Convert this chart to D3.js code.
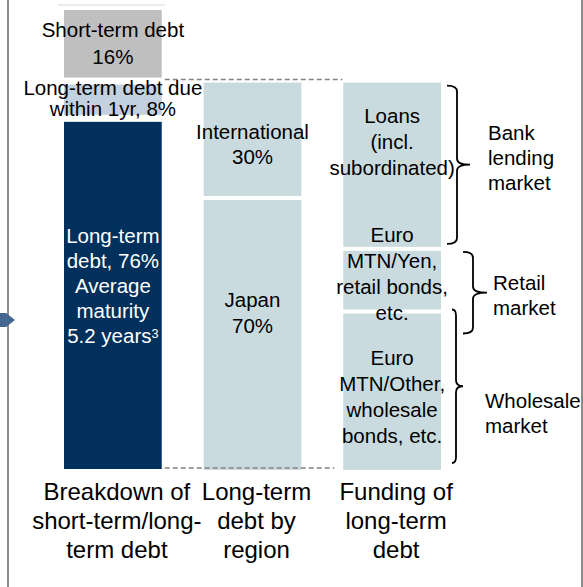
<!DOCTYPE html>
<html>
  <head>
    <script src="https://d3js.org/d3.v7.min.js"></script>
    <title>Debt breakdown</title>
    <style>
      body { margin: 0; background: #fff; }
      text { font-family: "Liberation Sans", Arial, sans-serif; }
    </style>
  </head>
  <body>
  <svg width="583" height="587"></svg>
  <script>

      // data
      var columns = ['term', 'region', 'funding'];
      var columnLabels = [
        ['Breakdown of', 'short-term/long-', 'term debt'],
        ['Long-term', 'debt by', 'region'],
        ['Funding of', 'long-term', 'debt']
      ];

      var termNames = ['Short-term debt', 'Long-term debt due within 1yr', 'Long-term debt'];
      var termShare = [16, 8, 76];
      var termLabels = [
        ['Short-term debt', '16%'],
        ['Long-term debt due', 'within 1yr, 8%'],
        ['Long-term', 'debt, 76%', 'Average', 'maturity', '5.2 years|3']
      ];

      var regionNames = ['International', 'Japan'];
      var regionShare = [30, 70];
      var regionLabels = [
        ['International', '30%'],
        ['Japan', '70%']
      ];

      var fundingNames = ['Loans', 'Euro MTN/Yen', 'Euro MTN/Other'];
      var fundingShare = [43, 16, 41];
      var fundingLabels = [
        ['Loans', '(incl.', 'subordinated)'],
        ['Euro', 'MTN/Yen,', 'retail bonds,', 'etc.'],
        ['Euro', 'MTN/Other,', 'wholesale', 'bonds, etc.']
      ];

      var marketNames = [['Bank', 'lending', 'market'], ['Retail', 'market'], ['Wholesale', 'market']];

      var svg = d3.select('svg');

      var x = d3.scaleBand()
        .domain(columns)
        .range([64, 441])
        .paddingInner(0.3);

      var y = d3.scaleLinear()
        .domain([0, 100])
        .range([7, 473]);

      // frame + little arrow on the left
      svg.append('line').attr('x1', 8).attr('x2', 8).attr('y1', 0).attr('y2', 587)
        .attr('stroke', '#8c8c8c').attr('stroke-width', 2);
      svg.append('line').attr('x1', 582).attr('x2', 582).attr('y1', 0).attr('y2', 587)
        .attr('stroke', '#8c8c8c').attr('stroke-width', 2);
      svg.append('line').attr('x1', 58).attr('x2', 165).attr('y1', 5).attr('y2', 5)
        .attr('stroke', '#e4e4e4').attr('stroke-width', 1.5);
      svg.append('polygon')
        .attr('points', '0,313 6,313 15,320 6,327 0,327')
        .attr('fill', '#44678f');

      // stacks: short/long term over full height, the others over long-term part
      function stack(shares, from, span) {
        var cum = 0;
        return shares.map(function(s, i) {
          var a = from + cum * span / 100;
          cum += s;
          return {i: i, start: a, end: from + cum * span / 100};
        });
      }

      var termSegs = stack(termShare, 0, 100);
      var longStart = termShare[0];
      var longSpan = 100 - termShare[0];
      var regionSegs = stack(regionShare, longStart, longSpan);
      var fundingSegs = stack(fundingShare, longStart, longSpan);

      var termColors = ['#bfbfbf', '#c3d0df', '#00305b'];
      var lightColor = '#cadbdf';

      function drawSegs(segs, col, colors, top, bot) {
        svg.append('g').selectAll('rect')
          .data(segs)
          .enter().append('rect')
          .attr('x', x(col))
          .attr('y', d => y(d.start) + top)
          .attr('width', x.bandwidth())
          .attr('height', d => y(d.end) - y(d.start) - top - bot)
          .attr('fill', (d, i) => colors[i]);
      }

      drawSegs(termSegs, 'term', termColors, 3, 4);
      drawSegs(regionSegs, 'region', [lightColor, lightColor], 1, 3);
      drawSegs(fundingSegs, 'funding', [lightColor, lightColor, lightColor], 1, 3);

      // dashed connectors
      svg.append('line')
        .attr('x1', x('term') + x.bandwidth() + 3).attr('x2', x('funding') - 1)
        .attr('y1', y(longStart) - 2).attr('y2', y(longStart) - 2)
        .attr('stroke', '#808080').attr('stroke-width', 1.5).attr('stroke-dasharray', '5,3');
      svg.append('line')
        .attr('x1', x('term') + x.bandwidth() + 3).attr('x2', x('funding') - 9)
        .attr('y1', y(100) - 5).attr('y2', y(100) - 5)
        .attr('stroke', '#808080').attr('stroke-width', 1.5).attr('stroke-dasharray', '5,3');

      // text blocks inside segments
      function block(lines, cx, cy, lh, size, color) {
        var t0 = cy - (lines.length - 1) * lh / 2;
        lines.forEach(function(l, i) {
          var t = svg.append('text')
            .attr('x', cx)
            .attr('y', t0 + i * lh)
            .attr('dy', '0.35em')
            .attr('text-anchor', 'middle')
            .style('font-size', size + 'px')
            .attr('fill', color);
          var parts = l.split('|');
          t.append('tspan').text(parts[0]);
          if (parts[1]) {
            t.append('tspan').attr('dy', '-0.4em').style('font-size', (size * 0.62) + 'px').text(parts[1]);
          }
        });
      }

      function segMid(d, top, bot) { return (y(d.start) + top + y(d.end) - bot) / 2; }

      var termNudge = [0, -1, -10], termLh = [27, 21, 25];
      termSegs.forEach(function(d, i) {
        block(termLabels[i], x('term') + x.bandwidth() / 2, segMid(d, 3, 4) + termNudge[i], termLh[i], 20.5,
          i == 2 ? '#fff' : '#000');
      });

      var regionNudge = [5, -22];
      regionSegs.forEach(function(d, i) {
        block(regionLabels[i], x('region') + x.bandwidth() / 2, segMid(d, 1, 3) + regionNudge[i], 25.5, 20.5, '#000');
      });

      var fundingNudge = [-23, -6, 5];
      fundingSegs.forEach(function(d, i) {
        block(fundingLabels[i], x('funding') + x.bandwidth() / 2, segMid(d, 1, 3) + fundingNudge[i], 26, 20.5, '#000');
      });

      // braces
      function brace(y1, y2, x0, x1, x2) {
        var ym = (y1 + y2) / 2, r = 6;
        return 'M' + x0 + ',' + y1 + ' Q' + x1 + ',' + y1 + ' ' + x1 + ',' + (y1 + r) +
          ' L' + x1 + ',' + (ym - r) + ' Q' + x1 + ',' + ym + ' ' + x2 + ',' + ym +
          ' Q' + x1 + ',' + ym + ' ' + x1 + ',' + (ym + r) +
          ' L' + x1 + ',' + (y2 - r) + ' Q' + x1 + ',' + y2 + ' ' + x0 + ',' + y2;
      }

      var bankY = [y(fundingSegs[0].start) + 4, y(fundingSegs[0].end) - 6];
      var retailY = [y(fundingSegs[1].start) + 2, y(fundingSegs[1].end) + 21];
      var wholesaleY = [y(fundingSegs[2].start) - 3, y(fundingSegs[2].end) - 10];
      var right = x('funding') + x.bandwidth();

      var braceSpecs = [
        {ys: bankY, x0: right + 6, x1: right + 16, x2: right + 29, tx: right + 47, lh: 25, ty: -7},
        {ys: retailY, x0: right + 22, x1: right + 32, x2: right + 46, tx: right + 52, lh: 25, ty: 3},
        {ys: wholesaleY, x0: right + 11, x1: right + 15, x2: right + 22, tx: right + 44, lh: 25, ty: 27}
      ];

      braceSpecs.forEach(function(b, i) {
        svg.append('path')
          .attr('d', brace(b.ys[0], b.ys[1], b.x0, b.x1, b.x2))
          .attr('fill', 'none')
          .attr('stroke', '#000')
          .attr('stroke-width', 1.8);
        var cy = (b.ys[0] + b.ys[1]) / 2 + b.ty;
        var lines = marketNames[i];
        lines.forEach(function(l, j) {
          svg.append('text')
            .attr('x', b.tx)
            .attr('y', cy - (lines.length - 1) * b.lh / 2 + j * b.lh)
            .attr('dy', '0.35em')
            .style('font-size', '20.5px')
            .text(l);
        });
      });

      // column captions
      columns.forEach(function(c, i) {
        columnLabels[i].forEach(function(l, j) {
          svg.append('text')
            .attr('x', x(c) + x.bandwidth() / 2 + 4)
            .attr('y', 492 + j * 29)
            .attr('dy', '0.35em')
            .attr('text-anchor', 'middle')
            .style('font-size', '24px')
            .text(l);
        });
      });

  </script>
  </body>
</html>
